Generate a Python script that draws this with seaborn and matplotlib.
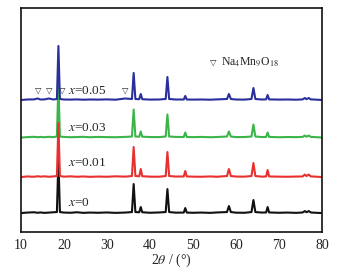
import matplotlib
matplotlib.use("Agg")
import matplotlib.pyplot as plt
from matplotlib.ticker import MultipleLocator
import seaborn as sns
import pandas as pd

# 2theta sample points (degrees)
two_theta = [10, 11.5, 13, 13.9, 14.5, 15.5, 16.5, 17.5, 18.35, 18.7, 19.05, 20, 21.5, 23, 24.5, 26,
             28, 30, 32, 34.2, 35.8, 36.2, 36.6, 37.5, 37.85, 38.2, 40, 42, 43.65, 44.05, 44.45, 46,
             47.85, 48.2, 48.55, 50, 52, 54, 55.5, 57.9, 58.35, 58.8, 60, 62, 63.6, 64.05, 64.5, 66,
             67.0, 67.35, 67.7, 70, 72, 74, 75.5, 76.0, 76.4, 76.9, 77.4, 78.5, 80]

# relative intensities (a.u.)
i_x0 = [0, 0.5, 0.8, 0.3, 0.6, 0.2, 0.5, 0.8, 1, 54, 1, 0.5, 0.3, 0.8, 0.2, 0.5,
        0.3, 0.6, 0.2, 0.5, 1, 29, 1, 0.8, 6, 0.8, 0.3, 0.6, 1, 24, 1, 0.4,
        0.5, 5, 0.5, 0.3, 0.5, 0.2, 0.6, 1, 7, 1, 0.4, 0.3, 1, 13, 1, 0.5,
        0.6, 6, 0.6, 0.3, 0.5, 0.2, 0.6, 2, 0.8, 2, 0.6, 0.3, 0]
i_x001 = [0, 0.6, 0.3, 0.8, 0.4, 0.7, 0.3, 0.6, 1, 54, 1, 0.4, 0.7, 0.3, 0.6, 0.2,
          0.5, 0.3, 0.7, 0.4, 1, 30, 1, 0.8, 8, 0.8, 0.4, 0.3, 1, 25, 1, 0.5,
          0.6, 6, 0.6, 0.4, 0.3, 0.6, 0.3, 1, 8, 1, 0.5, 0.4, 1, 14, 1, 0.4,
          0.6, 7, 0.6, 0.4, 0.3, 0.5, 0.6, 2.5, 1, 2.5, 0.6, 0.4, 0]
i_x003 = [0, 0.4, 0.7, 0.3, 0.6, 0.3, 0.7, 0.4, 1, 54, 1, 0.6, 0.3, 0.5, 0.7, 0.3,
          0.6, 0.4, 0.3, 0.6, 1, 28, 1, 0.8, 6, 0.8, 0.5, 0.4, 1, 23, 1, 0.6,
          0.5, 5, 0.5, 0.4, 0.6, 0.3, 0.5, 1, 6, 1, 0.4, 0.5, 1, 13, 1, 0.5,
          0.6, 5, 0.6, 0.3, 0.5, 0.4, 0.6, 2, 0.8, 2, 0.6, 0.4, 0]
i_x005 = [0, 0.5, 0.6, 1.5, 0.5, 0.6, 1.5, 0.5, 1, 54, 1, 0.5, 0.4, 0.6, 0.3, 0.5,
          0.4, 0.6, 0.3, 1.5, 1, 27, 1, 0.8, 6, 0.8, 0.4, 0.5, 1, 23, 1, 0.5,
          0.5, 4, 0.5, 0.4, 0.5, 0.3, 0.6, 1, 6, 1, 0.5, 0.4, 1, 12, 1, 0.5,
          0.6, 5, 0.6, 0.4, 0.5, 0.3, 0.6, 2, 0.8, 2, 0.6, 0.4, 0]

series_names = ["x=0", "x=0.01", "x=0.03", "x=0.05"]
series_labels = ["$x$=0", "$x$=0.01", "$x$=0.03", "$x$=0.05"]
series_data = [i_x0, i_x001, i_x003, i_x005]
offsets = [19, 55, 94.5, 132]
colors = ["#111111", "#e8302e", "#3bb54a", "#2a2f9c"]

marker_pos = [13.9, 16.5, 19.7, 34.2]

rows = []
for name, vals, off in zip(series_names, series_data, offsets):
    for t, v in zip(two_theta, vals):
        rows.append({"two_theta": t, "intensity": v + off, "series": name})
df = pd.DataFrame(rows)

sns.set_style("white")
plt.rcParams["font.family"] = ["Liberation Serif", "DejaVu Sans"]
plt.rcParams["mathtext.fontset"] = "stix"

fig = plt.figure(figsize=(3.47, 2.74), dpi=100)
ax = fig.add_axes([0.0605, 0.153, 0.8675, 0.818])

sns.lineplot(data=df, x="two_theta", y="intensity", hue="series",
             hue_order=["x=0", "x=0.03", "x=0.01", "x=0.05"],
             palette=dict(zip(series_names, colors)),
             estimator=None, sort=False, linewidth=1.5, legend=False, ax=ax)

ax.set_xlim(10, 80)
ax.set_ylim(0, 224)
ax.set_yticks([])
ax.set_ylabel("")
ax.xaxis.set_major_locator(MultipleLocator(10))
ax.xaxis.set_minor_locator(MultipleLocator(5))
ax.tick_params(axis="x", which="major", direction="in", length=4, width=1,
               labelsize=10, pad=5, colors="#222222")
ax.tick_params(axis="x", which="minor", direction="in", length=2, width=1)
ax.set_xlabel(r"2$\theta$ / (°)", fontsize=10, labelpad=0)
for s in ax.spines.values():
    s.set_linewidth(1.2)
    s.set_color("#111111")

label_y = [29, 69, 104, 141]
for lab, ly in zip(series_labels, label_y):
    ax.text(20.9, ly, lab, fontsize=9.5, va="center", ha="left")

for mp in marker_pos:
    ax.text(mp, 142, "▽", fontsize=6, ha="center", va="center",
            family=["DejaVu Sans"])

ax.text(54.7, 170, "▽", fontsize=6, ha="center", va="center", family=["DejaVu Sans"])
ax.text(56.4, 170, r"Na$_4$Mn$_9$O$_{18}$", fontsize=8.5, ha="left", va="center")

fig.savefig("out.png", dpi=100)
